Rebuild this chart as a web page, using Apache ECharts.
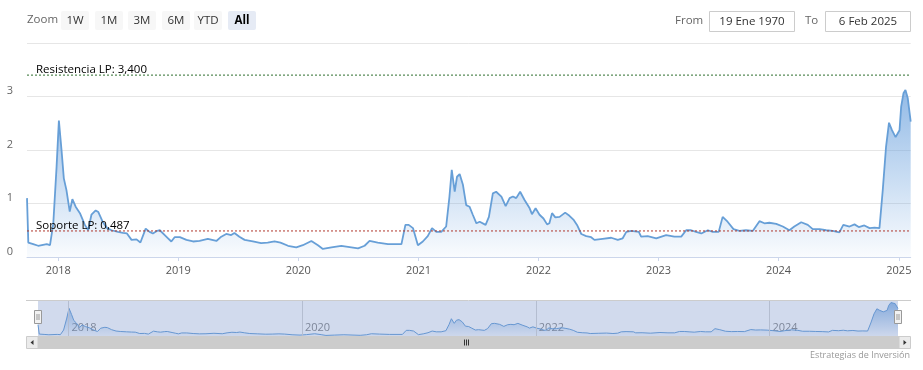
<!DOCTYPE html>
<html><head><meta charset="utf-8">
<script src="https://cdn.jsdelivr.net/npm/echarts@6/dist/echarts.min.js"></script>
<style>html,body{margin:0;padding:0;background:#fff}#c{width:923px;height:370px}</style>
</head><body><div id="c"></div>
<script>
// ---------- DATA ----------
const dates = [
'2017-09-28','2017-10-02','2017-10-17','2017-11-01','2017-11-27','2017-12-07','2017-12-17','2017-12-27',
'2018-01-03','2018-01-11','2018-01-18','2018-01-26','2018-02-05','2018-02-13','2018-02-23','2018-03-08',
'2018-03-23','2018-04-02','2018-04-12','2018-04-25','2018-05-03','2018-05-16','2018-05-30','2018-06-12',
'2018-07-02','2018-07-17','2018-07-29','2018-08-12','2018-08-27','2018-09-08','2018-09-24','2018-10-06',
'2018-10-16','2018-10-29','2018-11-06','2018-11-21','2018-12-01','2018-12-11','2018-12-21',
'2019-01-06','2019-01-26','2019-02-15','2019-03-07','2019-04-01','2019-04-27','2019-05-12','2019-05-27',
'2019-06-11','2019-06-21','2019-07-06','2019-07-22','2019-08-16','2019-09-10','2019-09-30','2019-10-21',
'2019-11-08','2019-12-01','2019-12-26',
'2020-01-15','2020-02-10','2020-03-01','2020-03-16','2020-04-11','2020-05-11','2020-07-01','2020-07-21',
'2020-08-05','2020-08-30','2020-09-30','2020-11-10','2020-11-22','2020-12-02','2020-12-15','2020-12-30',
'2021-01-14','2021-01-29','2021-02-11','2021-02-24','2021-03-11','2021-03-26','2021-04-05','2021-04-12',
'2021-04-21','2021-04-28','2021-05-06','2021-05-16','2021-05-26','2021-06-05','2021-06-15','2021-06-26',
'2021-07-06','2021-07-24','2021-08-03','2021-08-15','2021-08-25','2021-09-10','2021-09-23','2021-10-05',
'2021-10-15','2021-10-25','2021-11-06','2021-11-19','2021-12-05','2021-12-12','2021-12-23',
'2022-01-04','2022-01-16','2022-01-27','2022-02-03','2022-02-11','2022-02-21','2022-03-06','2022-03-23',
'2022-04-05','2022-04-17','2022-04-28','2022-05-11','2022-05-26','2022-06-10','2022-06-20','2022-07-15',
'2022-08-10','2022-08-30','2022-09-14','2022-09-25','2022-10-10','2022-11-02','2022-11-09','2022-11-29',
'2022-12-25',
'2023-01-24','2023-02-18','2023-03-11','2023-03-26','2023-04-10','2023-04-25','2023-05-11','2023-05-31',
'2023-06-15','2023-07-03','2023-07-15','2023-07-30','2023-08-17','2023-09-04','2023-09-24','2023-10-15',
'2023-11-04','2023-11-19','2023-12-04','2023-12-25',
'2024-01-14','2024-02-03','2024-02-18','2024-03-10','2024-03-30','2024-04-14','2024-05-05','2024-05-25',
'2024-06-14','2024-07-04','2024-07-16','2024-08-04','2024-08-19','2024-09-01','2024-09-18','2024-10-04',
'2024-10-19','2024-11-03','2024-11-13','2024-11-23','2024-12-02','2024-12-11','2024-12-22',
'2025-01-03','2025-01-08','2025-01-15','2025-01-21','2025-01-28','2025-02-06'
];
const values = [
1.10,0.27,0.24,0.21,0.24,0.22,0.63,1.69,
2.55,2.00,1.47,1.25,0.85,1.08,0.94,0.82,
0.60,0.50,0.79,0.87,0.84,0.66,0.54,0.50,
0.47,0.45,0.44,0.32,0.33,0.27,0.53,0.47,
0.44,0.49,0.50,0.41,0.35,0.29,0.37,
0.37,0.32,0.29,0.30,0.34,0.30,0.38,0.43,
0.41,0.45,0.38,0.32,0.29,0.26,0.27,0.29,
0.27,0.21,0.18,
0.22,0.30,0.22,0.15,0.18,0.21,0.16,0.21,
0.30,0.27,0.24,0.24,0.60,0.60,0.54,0.22,
0.29,0.39,0.54,0.47,0.47,0.57,1.13,1.63,
1.22,1.50,1.55,1.35,0.97,0.94,0.79,0.63,
0.66,0.60,0.75,1.19,1.22,1.13,0.95,1.10,
1.13,1.10,1.22,1.07,0.91,0.80,0.91,
0.79,0.72,0.61,0.63,0.82,0.74,0.75,0.83,
0.77,0.70,0.60,0.43,0.39,0.37,0.32,0.34,
0.36,0.32,0.35,0.47,0.49,0.47,0.38,0.39,
0.35,
0.41,0.38,0.38,0.50,0.50,0.47,0.44,0.50,
0.47,0.47,0.75,0.66,0.52,0.49,0.50,0.49,
0.67,0.63,0.64,0.62,
0.57,0.50,0.57,0.65,0.60,0.52,0.52,0.50,
0.49,0.46,0.60,0.57,0.61,0.56,0.59,0.54,
0.55,0.54,1.25,2.06,2.51,2.37,2.24,
2.37,2.81,3.06,3.12,2.97,2.53
];
const yTicks = [0, 1, 2, 3, 4];
const resistanceValue = 3.4;
const supportValue = 0.487;
const resistanceLabel = 'Resistencia LP: 3,400';
const supportLabel = 'Soporte LP: 0,487';
const rangeButtons = ['1W', '1M', '3M', '6M', 'YTD', 'All'];
const selectedButton = 'All';
const fromLabel = 'From', toLabel = 'To';
const fromDate = '19 Ene 1970', toDate = '6 Feb 2025';
const navYears = [2018, 2020, 2022, 2024];
const creditText = 'Estrategias de Inversión';

// ---------- STYLE ----------
const FONT = "'Open Sans', 'Noto Sans', sans-serif";
const LINE = '#679fd7';
const seriesData = dates.map((d, i) => [d, values[i]]);
const first = dates[0], last = dates[dates.length - 1];
const areaGrad = () => new echarts.graphic.LinearGradient(0, 0, 0, 1, [
  { offset: 0, color: 'rgba(100,157,220,1)' },
  { offset: 1, color: 'rgba(100,157,220,0.05)' }
]);
const isYearStart = v => { const d = new Date(v); return d.getMonth() === 0 && d.getDate() === 1; };

// toolbar graphics
const g = [];
g.push({ type: 'text', left: 27, top: 14, style: { text: 'Zoom', font: '11.5px ' + FONT, fill: '#666' } });
const btnX = [61, 95, 128, 162, 194, 228];
rangeButtons.forEach((b, i) => {
  const sel = b === selectedButton;
  g.push({ type: 'rect', shape: { x: btnX[i], y: 11, width: 28, height: 19, r: 2 },
    style: { fill: sel ? '#e6ebf5' : '#f7f7f7' } });
  g.push({ type: 'text', x: btnX[i] + 14, y: 20.5,
    style: { text: b, font: (sel ? 'bold ' : '') + '11.5px ' + FONT, fill: sel ? '#000' : '#333', align: 'center', verticalAlign: 'middle' } });
});
g.push({ type: 'text', x: 675, y: 21, style: { text: fromLabel, font: '11.5px ' + FONT, fill: '#666', verticalAlign: 'middle' } });
g.push({ type: 'rect', shape: { x: 709.5, y: 11.5, width: 85, height: 20 }, style: { fill: '#fff', stroke: '#cccccc', lineWidth: 1 } });
g.push({ type: 'text', x: 752, y: 21.5, style: { text: fromDate, font: '11.5px ' + FONT, fill: '#333', align: 'center', verticalAlign: 'middle' } });
g.push({ type: 'text', x: 805, y: 21, style: { text: toLabel, font: '11.5px ' + FONT, fill: '#666', verticalAlign: 'middle' } });
g.push({ type: 'rect', shape: { x: 825.5, y: 11.5, width: 85, height: 20 }, style: { fill: '#fff', stroke: '#cccccc', lineWidth: 1 } });
g.push({ type: 'text', x: 868, y: 21.5, style: { text: toDate, font: '11.5px ' + FONT, fill: '#333', align: 'center', verticalAlign: 'middle' } });

// navigator decorations
g.push({ type: 'line', z: 50, shape: { x1: 26, y1: 300.5, x2: 911, y2: 300.5 }, style: { stroke: '#cccccc', lineWidth: 1 } });
g.push({ type: 'rect', z: 50, shape: { x: 38, y: 301, width: 860, height: 35 }, style: { fill: 'rgba(102,133,194,0.3)' } });
[38, 898].forEach(cx => {
  g.push({ type: 'rect', z: 51, shape: { x: cx - 3.5, y: 310.5, width: 7, height: 13 }, style: { fill: '#f2f2f2', stroke: '#999999', lineWidth: 1 } });
  g.push({ type: 'line', z: 52, shape: { x1: cx - 1, y1: 314, x2: cx - 1, y2: 320 }, style: { stroke: '#999', lineWidth: 1 } });
  g.push({ type: 'line', z: 52, shape: { x1: cx + 1, y1: 314, x2: cx + 1, y2: 320 }, style: { stroke: '#999', lineWidth: 1 } });
});
// scrollbar
g.push({ type: 'rect', z: 50, shape: { x: 38, y: 336, width: 861, height: 13 }, style: { fill: '#cccccc' } });
g.push({ type: 'rect', z: 50, shape: { x: 26.5, y: 336.5, width: 11.5, height: 12 }, style: { fill: '#ebebeb', stroke: '#cccccc', lineWidth: 1 } });
g.push({ type: 'rect', z: 50, shape: { x: 899, y: 336.5, width: 11.5, height: 12 }, style: { fill: '#ebebeb', stroke: '#cccccc', lineWidth: 1 } });
g.push({ type: 'polygon', z: 51, shape: { points: [[33.5, 340], [33.5, 345], [30.5, 342.5]] }, style: { fill: '#333' } });
g.push({ type: 'polygon', z: 51, shape: { points: [[903.5, 340], [903.5, 345], [906.5, 342.5]] }, style: { fill: '#333' } });
[464.5, 466.5, 468.5].forEach(x => g.push({ type: 'line', z: 51, shape: { x1: x, y1: 339.5, x2: x, y2: 345.5 }, style: { stroke: '#333', lineWidth: 1 } }));
// credits
g.push({ type: 'text', x: 910, y: 355, style: { text: creditText, font: '9px ' + FONT, fill: '#999', align: 'right', verticalAlign: 'middle' } });

function levelSeries(value, color) {
  return { type: 'line', xAxisIndex: 0, yAxisIndex: 0, silent: true, showSymbol: false, z: 3,
    data: [[first, value], [last, value]],
    lineStyle: { color: color, type: [2, 2], width: 1 }, itemStyle: { color: color } };
}

const chart = echarts.init(document.getElementById('c'), null, { renderer: 'canvas' });
chart.setOption({
  animation: false,
  backgroundColor: '#fff',
  textStyle: { fontFamily: FONT },
  grid: [
    { left: 27, right: 12.3, top: 43, bottom: 113 },
    { left: 38, right: 25, top: 301, height: 35 }
  ],
  xAxis: [
    { type: 'time', gridIndex: 0, min: first, max: last, splitNumber: 7,
      axisLine: { lineStyle: { color: '#ccd6eb' } },
      axisTick: { show: true, length: 4, lineStyle: { color: '#ccd6eb' } },
      splitLine: { show: false },
      axisLabel: { color: '#555', fontSize: 11, margin: 8, fontFamily: FONT,
        formatter: v => isYearStart(v) ? String(new Date(v).getFullYear()) : '' } },
    { type: 'time', gridIndex: 1, min: first, max: last, splitNumber: 7,
      axisLine: { show: false }, axisTick: { show: false }, splitLine: { show: false },
      axisLabel: { inside: true, color: '#888', fontSize: 11, margin: 3, align: 'left', verticalAlign: 'bottom', padding: [0, 0, 0, 3], fontFamily: FONT,
        formatter: v => { const d = new Date(v); return isYearStart(v) && navYears.includes(d.getFullYear()) ? String(d.getFullYear()) : ''; } } }
  ],
  yAxis: [
    { type: 'value', gridIndex: 0, min: yTicks[0], max: yTicks[yTicks.length - 1], interval: 1,
      axisLine: { show: false }, axisTick: { show: false },
      splitLine: { lineStyle: { color: '#e6e6e6' } },
      axisLabel: { color: '#666', fontSize: 11, margin: 14, verticalAlign: 'bottom', fontFamily: FONT,
        formatter: v => v === yTicks[yTicks.length - 1] ? '' : String(v) } },
    { type: 'value', gridIndex: 1, min: 0.1, max: 3.2, show: false }
  ],
  graphic: { elements: g },
  series: [
    { type: 'line', xAxisIndex: 0, yAxisIndex: 0, data: seriesData, showSymbol: false, smooth: false,
      lineStyle: { color: LINE, width: 1.8 }, itemStyle: { color: LINE },
      areaStyle: { color: areaGrad() } },
    levelSeries(resistanceValue, '#2e6e2e'),
    levelSeries(supportValue, '#b0392e'),
    { type: 'line', xAxisIndex: 1, yAxisIndex: 1, data: seriesData, showSymbol: false,
      lineStyle: { color: LINE, width: 1 }, areaStyle: { color: areaGrad() },
      markLine: { silent: true, symbol: ['none', 'none'], label: { show: false },
        lineStyle: { color: '#d6d6d6', type: 'solid', width: 1 },
        data: navYears.map(y => ({ xAxis: y + '-01-01' })) } }
  ]
});

// level labels placed through the chart's own scales
const x0 = chart.convertToPixel({ xAxisIndex: 0 }, first);
const labels = [[resistanceValue, resistanceLabel], [supportValue, supportLabel]].map(([v, t]) => ({
  type: 'text', z: 60, x: x0 + 9, y: chart.convertToPixel({ yAxisIndex: 0 }, v) + 0.5,
  style: { text: t, font: '11.5px ' + FONT, fill: '#000', verticalAlign: 'bottom' }
}));
chart.setOption({ graphic: { elements: g.concat(labels) } });
</script></body></html>
